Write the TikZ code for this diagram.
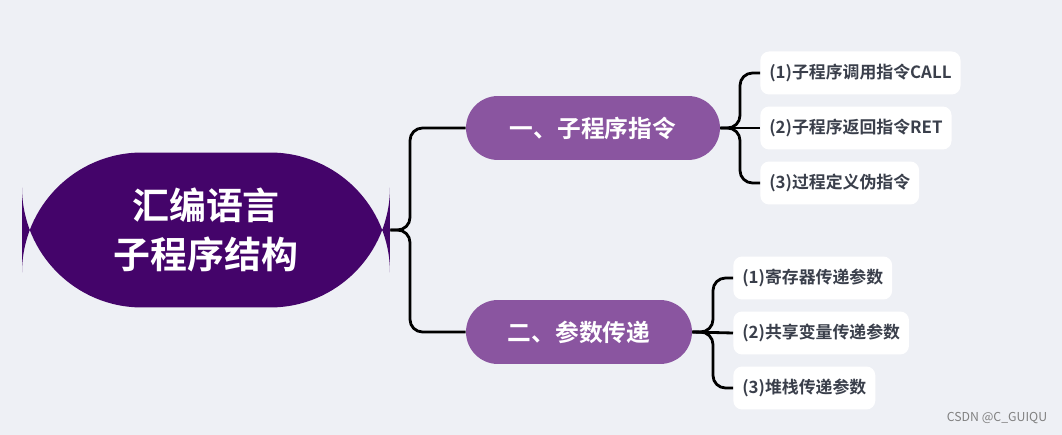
\documentclass[tikz,border=0pt]{standalone}
\usepackage{fontspec}
\setmainfont{Noto Sans CJK SC}[BoldFont={* Bold}]
\definecolor{bgcol}{HTML}{EEF0F5}
\definecolor{rootcol}{HTML}{44046A}
\definecolor{branchcol}{HTML}{8A55A0}
\definecolor{leaftext}{HTML}{3A3F4B}
\tikzset{
  root/.style={fill=rootcol, rounded corners=2.4cm, text=white, font=\bfseries\fontsize{21}{28}\selectfont, align=center, minimum width=7.36cm, minimum height=3.1cm},
  branch/.style={fill=branchcol, rounded corners=0.64cm, text=white, font=\bfseries\fontsize{13.5}{16}\selectfont, minimum height=1.28cm},
  leaf/.style={fill=white, rounded corners=5pt, text=leaftext, font=\bfseries\fontsize{9.6}{12}\selectfont, minimum height=0.86cm, anchor=west, inner xsep=0.18cm},
  link/.style={line width=1.6pt, rounded corners=0.25cm}
}
\begin{document}
\begin{tikzpicture}[x=0.02cm, y=-0.02cm]
\fill[bgcol] (0,0) rectangle (1062,435);
\useasboundingbox (0,0) rectangle (1062,435);

\node[root] (asm) at (206,230) {汇编语言\\子程序结构};
\node[branch, minimum width=5.08cm] (sub) at (593,128) {一、子程序指令};
\node[branch, minimum width=4.52cm] (par) at (579,332) {二、参数传递};

\node[leaf] (call) at (760,73) {(1)子程序调用指令CALL};
\node[leaf] (ret) at (760,128) {(2)子程序返回指令RET};
\node[leaf] (proc) at (760,183) {(3)过程定义伪指令};
\node[leaf] (reg) at (733,278) {(1)寄存器传递参数};
\node[leaf] (var) at (733,333) {(2)共享变量传递参数};
\node[leaf] (stk) at (733,388) {(3)堆栈传递参数};

% root to branches
\draw[link] (asm.east) -- (410,230) |- (sub.west);
\draw[link] (asm.east) -- (410,230) |- (par.west);
% branch one
\draw[link] (sub.east) -- (740,128) |- (call.west);
\draw[link] (sub.east) -- (ret.west);
\draw[link] (sub.east) -- (740,128) |- (proc.west);
% branch two
\draw[link] (par.east) -- (713,332) |- (reg.west);
\draw[link] (par.east) -- (var.west);
\draw[link] (par.east) -- (713,332) |- (stk.west);

\node[text=gray, font=\fontsize{7}{8}\selectfont] (mark) at (997,418) {CSDN @C\_GUIQU};
\end{tikzpicture}
\end{document}
